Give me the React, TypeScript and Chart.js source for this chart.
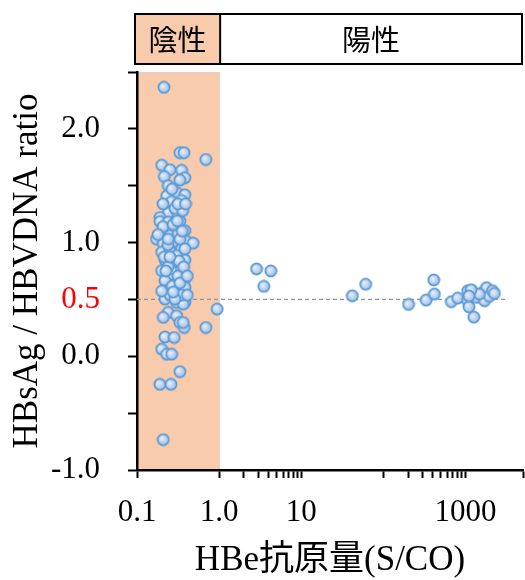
import React, { useEffect, useRef } from "react";
import { Chart, registerables } from "chart.js";

Chart.register(...registerables);

// HBe antigen negative group (S/CO < 1.0)
const negX = [
  0.213, 0.333, 0.374, 0.689, 0.2, 0.252, 0.349, 0.383, 0.215, 0.24,
  0.333, 0.304, 0.23, 0.383, 0.349, 0.264, 0.24, 0.318, 0.19, 0.19,
  0.24, 0.333, 0.383, 0.222, 0.173, 0.209, 0.29, 0.402, 0.483, 0.252,
  0.318, 0.349, 0.2, 0.252, 0.304, 0.219, 0.383, 0.264, 0.2, 0.29,
  0.349, 0.252, 0.383, 0.219, 0.304, 0.219, 0.318, 0.383, 0.219, 0.304,
  0.383, 0.24, 0.209, 0.304, 0.333, 0.376, 0.219, 0.284, 0.2, 0.23,
  0.264, 0.946, 0.689, 0.333, 0.19, 0.259, 0.209, 0.365, 0.365, 0.266,
  0.29, 0.36, 0.207, 0.275, 0.18, 0.333, 0.238, 0.383, 0.215, 0.325,
  0.24, 0.315, 0.27, 0.35, 0.252, 0.29, 0.41, 0.2, 0.37, 0.207,
  0.315, 0.39, 0.252, 0.333, 0.225, 0.41, 0.276, 0.24, 0.31, 0.355,
];
const negY = [
  2.365, 1.79, 1.79, 1.73, 1.68, 1.64, 1.635, 1.57, 1.58, 1.5,
  1.55, 1.44, 1.41, 1.42, 1.37, 1.36, 1.26, 1.25, 1.22, 1.185,
  1.18, 1.19, 1.105, 1.1, 1.03, 0.99, 1.01, 1.01, 0.995, 1.06,
  1.077, 0.944, 0.915, 0.93, 0.885, 0.847, 0.847, 0.827, 0.753, 0.739,
  0.768, 0.68, 0.68, 0.665, 0.65, 0.576, 0.576, 0.606, 0.503, 0.474,
  0.474, 0.386, 0.342, 0.356, 0.297, 0.253, 0.17, 0.165, 0.062, 0.018,
  0.018, 0.415, 0.253, -0.135, -0.247, -0.247, -0.733, 0.459, 0.297, 1.47,
  1.3, 1.28, 1.14, 1.16, 1.07, 1.03, 0.98, 0.944, 0.874, 0.838,
  0.786, 0.706, 0.618, 0.538, 0.538, 0.503, 0.538, 0.574, 0.786, 1.34,
  1.34, 1.34, 0.874, 0.644, 0.75, 0.706, 0.565, 1.03, 1.19, 1.1,
];

// HBe antigen positive group
const posX = [
  2.85, 4.25, 3.5, 41.8, 60.7, 202, 331, 410, 417, 671,
  802, 1062, 1062, 1097, 1260, 1200, 1343, 1620, 1700, 1800,
  1945, 2130, 2240, 1470, 1167, 1100,
];
const posY = [
  0.768, 0.75, 0.615, 0.532, 0.633, 0.456, 0.494, 0.671, 0.547, 0.48,
  0.512, 0.576, 0.488, 0.435, 0.344, 0.576, 0.518, 0.562, 0.488, 0.603,
  0.527, 0.576, 0.553, 0.547, 0.585, 0.53,
];

const cutoffY = 0.5;
const cutoffXRange = [0.1, 3300];
const bandRange = [0.1, 1.0];
const headerLabels = ["陰性", "陽性"];

const xTickValues = [
  0.1, 1, 2, 3, 4, 5, 6, 7, 8, 9, 10, 100, 200, 300, 400, 500, 600, 700, 800, 900, 1000, 5000,
];
const xTickLabels: Record<string, string> = { "0.1": "0.1", "1": "1.0", "10": "10", "1000": "1000" };
const yTickLabels: Record<string, string> = { "2": "2.0", "1": "1.0", "0.5": "0.5", "0": "0.0", "-1": "-1.0" };

const xTitle = "HBe抗原量(S/CO)";
const yTitle = "HBsAg / HBVDNA ratio";

const bandColor = "#f8cbad";
const serif = "'Liberation Serif', 'Times New Roman', 'Noto Sans CJK JP', serif";

function makeMarker(): HTMLCanvasElement {
  const c = document.createElement("canvas");
  const s = 14;
  c.width = s;
  c.height = s;
  const g = c.getContext("2d")!;
  const cx = s / 2;
  const r = 5.6;
  const grad = g.createRadialGradient(cx - 1.5, cx - 1.5, 0.5, cx, cx, r + 1);
  grad.addColorStop(0, "#e6eefa");
  grad.addColorStop(1, "#93b5e4");
  g.beginPath();
  g.arc(cx, cx, r, 0, Math.PI * 2);
  g.fillStyle = grad;
  g.fill();
  g.lineWidth = 1.7;
  g.strokeStyle = "#5b9bd5";
  g.stroke();
  return c;
}

const decorPlugin = {
  id: "decor",
  beforeDraw(chart: any) {
    const { ctx, chartArea, scales } = chart;
    const x = scales.x;
    const x0 = x.getPixelForValue(bandRange[0]);
    const x1 = x.getPixelForValue(bandRange[1]);
    ctx.save();
    ctx.fillStyle = bandColor;
    ctx.fillRect(x0, chartArea.top, x1 - x0, chartArea.bottom - chartArea.top);
    ctx.strokeStyle = "#d3d3d3";
    ctx.lineWidth = 1;
    ctx.beginPath();
    ctx.moveTo(x0, chartArea.top + 0.5);
    ctx.lineTo(x1 + 0.5, chartArea.top + 0.5);
    ctx.lineTo(x1 + 0.5, chartArea.bottom);
    ctx.stroke();
    ctx.restore();
  },
  afterDraw(chart: any) {
    const { ctx, scales } = chart;
    const x = scales.x;
    const left = x.left - 2;
    const right = x.right - 1;
    const mid = x.getPixelForValue(bandRange[1]) + 1;
    const top = 14;
    const bottom = 64;
    ctx.save();
    ctx.fillStyle = bandColor;
    ctx.fillRect(left, top, mid - left, bottom - top);
    ctx.fillStyle = "#ffffff";
    ctx.fillRect(mid, top, right - mid, bottom - top);
    ctx.strokeStyle = "#000";
    ctx.lineWidth = 2;
    ctx.strokeRect(left, top, right - left, bottom - top);
    ctx.beginPath();
    ctx.moveTo(mid, top);
    ctx.lineTo(mid, bottom);
    ctx.stroke();
    ctx.fillStyle = "#000";
    ctx.font = "29px 'Noto Sans CJK JP', sans-serif";
    ctx.textAlign = "center";
    ctx.textBaseline = "middle";
    ctx.fillText(headerLabels[0], (left + mid) / 2, (top + bottom) / 2 + 1);
    ctx.fillText(headerLabels[1], (mid + right) / 2, (top + bottom) / 2 + 1);
    ctx.restore();
  },
};

export default function App() {
  const ref = useRef<HTMLCanvasElement>(null);
  useEffect(() => {
    const canvas = ref.current!;
    const marker = makeMarker();
    const chart = new Chart(canvas, {
      type: "scatter",
      data: {
        datasets: [
          {
            label: "negative",
            data: negX.map((v, i) => ({ x: v, y: negY[i] })),
            pointStyle: marker as any,
            pointRadius: 6,
            order: 1,
          },
          {
            label: "positive",
            data: posX.map((v, i) => ({ x: v, y: posY[i] })),
            pointStyle: marker as any,
            pointRadius: 6,
            order: 1,
          },
          {
            type: "line",
            label: "cutoff",
            data: cutoffXRange.map((v) => ({ x: v, y: cutoffY })),
            borderColor: "#8a96a8",
            borderWidth: 1.3,
            borderDash: [4, 3],
            pointRadius: 0,
            order: 2,
          } as any,
        ],
      },
      options: {
        animation: false,
        responsive: false,
        devicePixelRatio: 1,
        layout: { autoPadding: false, padding: { top: 72, right: 2, left: 0, bottom: 0 } },
        plugins: { legend: { display: false }, tooltip: { enabled: false } },
        scales: {
          x: {
            type: "logarithmic",
            min: 0.1,
            max: 5000,
            afterBuildTicks: (scale: any) => {
              scale.ticks = xTickValues.map((v) => ({ value: v }));
            },
            afterFit: (scale: any) => {
              scale.height = 110;
              scale.paddingLeft = 0;
              scale.paddingRight = 0;
            },
            ticks: {
              autoSkip: false,
              maxRotation: 0,
              minRotation: 0,
              padding: 16,
              color: "#000",
              font: { family: serif, size: 31 },
              callback: (v: any) => xTickLabels[String(v)] ?? "",
            },
            grid: {
              display: true,
              drawOnChartArea: false,
              drawTicks: true,
              tickLength: 8,
              tickWidth: 2,
              tickColor: "#000",
            },
            border: { display: true, color: "#000", width: 2.5 },
            title: {
              display: true,
              text: xTitle,
              color: "#000",
              font: { family: serif, size: 35 },
              padding: { top: 0, bottom: -2 },
            },
          },
          y: {
            type: "linear",
            min: -1,
            max: 2.5,
            afterFit: (scale: any) => {
              scale.width = 137;
            },
            ticks: {
              stepSize: 0.5,
              autoSkip: false,
              padding: 28,
              color: (ctx: any) => (ctx.tick && ctx.tick.value === 0.5 ? "#ff0000" : "#000"),
              font: { family: serif, size: 31 },
              callback: (v: any) => yTickLabels[String(v)] ?? "",
            },
            grid: {
              display: true,
              drawOnChartArea: false,
              drawTicks: true,
              tickLength: 9,
              tickWidth: 2,
              tickColor: "#000",
            },
            border: { display: true, color: "#000", width: 2.5 },
            title: {
              display: true,
              text: yTitle,
              color: "#000",
              font: { family: serif, size: 35 },
              padding: { top: 7, bottom: 0 },
            },
          },
        },
      },
      plugins: [decorPlugin],
    } as any);
    return () => chart.destroy();
  }, []);
  return (
    <div style={{ position: "absolute", left: 0, top: 0, width: 525, height: 580 }}>
      <canvas ref={ref} width={525} height={580} style={{ width: 525, height: 580, display: "block" }} />
    </div>
  );
}
